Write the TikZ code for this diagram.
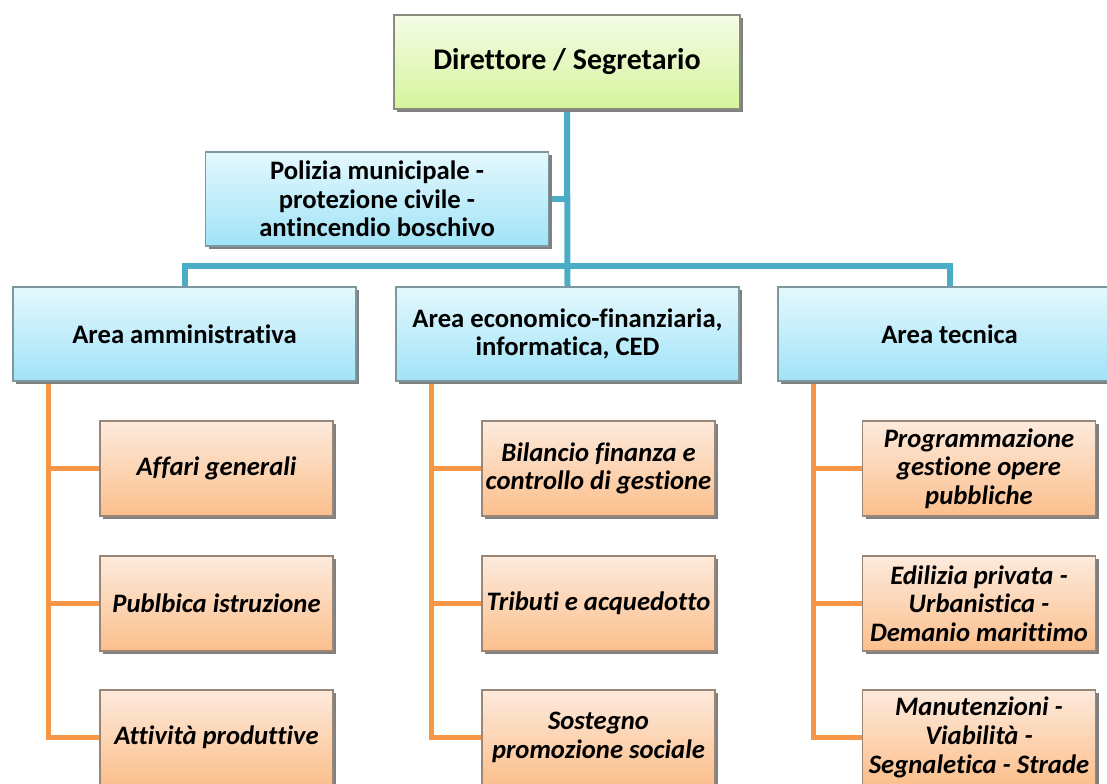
\documentclass[tikz,border=0pt]{standalone}
\usepackage{fontspec}
\setmainfont{Carlito}[Ligatures=NoCommon]
\usetikzlibrary{backgrounds, shadows}
\definecolor{greentop}{HTML}{F4FCE6}
\definecolor{greenbot}{HTML}{D6F49C}
\definecolor{greenedge}{HTML}{8C8C7E}
\definecolor{bluetop}{HTML}{E4F8FD}
\definecolor{bluebot}{HTML}{A0E3F8}
\definecolor{blueedge}{HTML}{7E98A0}
\definecolor{orangetop}{HTML}{FDEADC}
\definecolor{orangebot}{HTML}{FBBF8C}
\definecolor{orangeedge}{HTML}{9A8676}
\definecolor{trunkblue}{HTML}{4BACC6}
\definecolor{branchorange}{HTML}{F79646}
\tikzset{
    boxbase/.style={rectangle,draw,line width=1.2pt,align=center,inner sep=2pt,
        font=\fontsize{20}{21.5}\selectfont\bfseries,
        drop shadow={shadow xshift=2.5pt,shadow yshift=-2.5pt,fill=black!50,opacity=1}},
    director/.style={boxbase,draw=greenedge,top color=greentop,bottom color=greenbot,
        minimum width=259.5pt,minimum height=70.5pt,font=\fontsize{22.5}{24}\selectfont\bfseries},
    office/.style={boxbase,draw=blueedge,top color=bluetop,bottom color=bluebot,
        minimum width=257.25pt,minimum height=70.5pt},
    service/.style={boxbase,draw=orangeedge,top color=orangetop,bottom color=orangebot,
        minimum width=174.75pt,minimum height=71.25pt,
        font=\fontsize{20}{21.5}\selectfont\bfseries\itshape},
    trunk/.style={draw=trunkblue,line width=4.5pt},
    branch/.style={draw=branchorange,line width=3.75pt}}

\begin{document}
\begin{tikzpicture}[x=0.75pt,y=-0.75pt]
\useasboundingbox (0,0) rectangle (1107,783);
\clip (0,0) rectangle (1107,783);
% vertice
\node[director] (dir) at (567,62) {Direttore / Segretario};
\node[office] (pol) at (377,199) {Polizia municipale -\\protezione civile -\\antincendio boschivo};
% aree
\node[office] (amm) at (184.5,334) {Area amministrativa};
\node[office] (eco) at (567.5,334) {Area economico-finanziaria,\\informatica, CED};
\node[office] (tec) at (949.5,334) {Area tecnica};
% servizi
\node[service] (aff) at (216.5,468.5) {Affari generali};
\node[service] (pub) at (216.5,603.5) {Publbica istruzione};
\node[service] (att) at (216.5,737.5) {Attività produttive};
\node[service] (bil) at (598.5,468.5) {Bilancio finanza e\\controllo di gestione};
\node[service] (tri) at (598.5,603.5) {Tributi e acquedotto};
\node[service] (sos) at (598.5,737.5) {Sostegno\\promozione sociale};
\node[service] (pro) at (979,468.5) {Programmazione\\gestione opere\\pubbliche};
\node[service] (edi) at (979,603.5) {Edilizia privata -\\Urbanistica -\\Demanio marittimo};
\node[service] (man) at (979,737.5) {Manutenzioni -\\Viabilità -\\Segnaletica - Strade};
\coordinate (bar) at (567,266);

\begin{pgfonlayer}{background}
\draw[trunk] (dir.south) -- (eco.north);
\draw[trunk] (amm.north) |- (bar) -| (tec.north);
\draw[trunk] (pol.east) -- (pol.east -| dir.south);
\foreach \area/\serv in {amm/aff,amm/pub,amm/att,eco/bil,eco/tri,eco/sos,tec/pro,tec/edi,tec/man}
    \draw[branch] ([xshift=27pt]\area.south west) |- (\serv.west);
\end{pgfonlayer}
\end{tikzpicture}
\end{document}
